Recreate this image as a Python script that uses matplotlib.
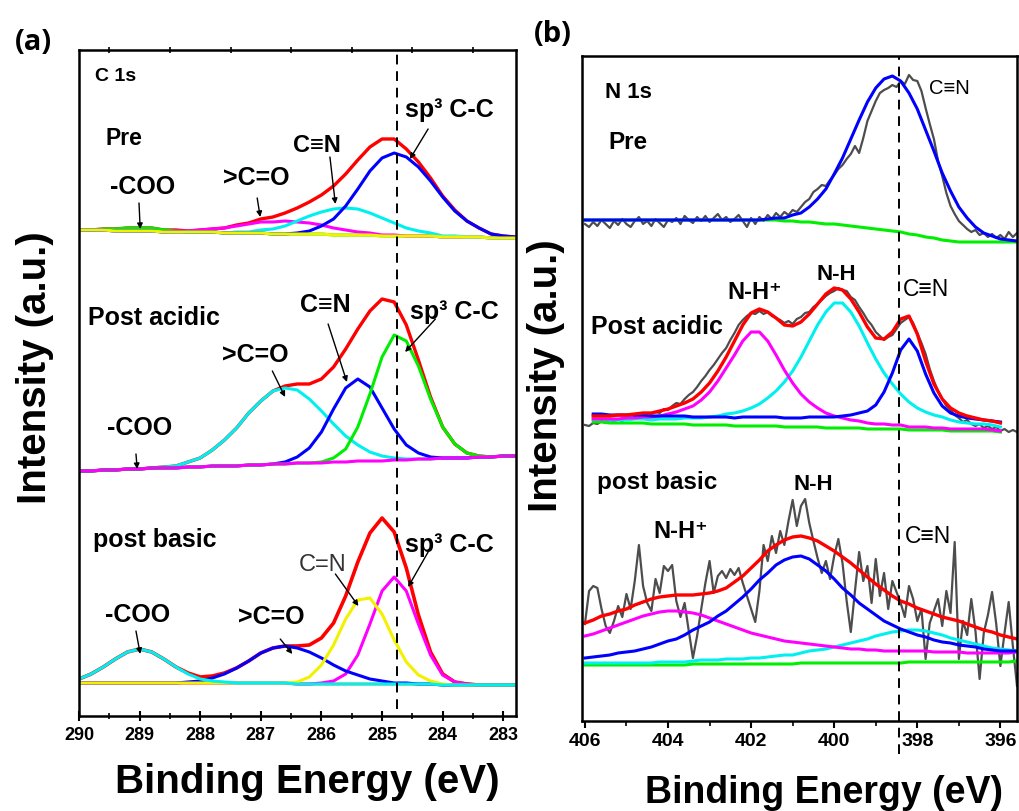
import numpy as np
import matplotlib
matplotlib.use("Agg")
import matplotlib.pyplot as plt
from matplotlib.ticker import MultipleLocator

plt.rcParams['font.family'] = ['Liberation Sans', 'DejaVu Sans']
plt.rcParams['font.weight'] = 'bold'

# ------------------------------------------------------------------
# Panel (a): C 1s  (intensities in arbitrary units, stacked spectra)
# ------------------------------------------------------------------
energy_c1s = [290.0, 289.8, 289.6, 289.4, 289.2, 289.0, 288.8, 288.6, 288.4, 288.2,
              288.0, 287.8, 287.6, 287.4, 287.2, 287.0, 286.8, 286.6, 286.4, 286.2,
              286.0, 285.8, 285.6, 285.4, 285.2, 285.0, 284.8, 284.6, 284.4, 284.2,
              284.0, 283.8, 283.6, 283.4, 283.2, 283.0, 282.8]

# Pre
c_pre_bg = [486, 486, 486, 485, 485, 485, 485, 484, 484, 484,
            484, 484, 483, 483, 483, 483, 482, 482, 482, 482,
            482, 481, 481, 481, 481, 480, 480, 480, 480, 480,
            479, 479, 479, 479, 478, 478, 478]
c_pre_coo = [0, 0, 1, 2, 3, 3, 3, 2, 1, 0,
             0, 0, 0, 0, 0, 0, 0, 0, 0, 0,
             0, 0, 0, 0, 0, 0, 0, 0, 0, 0,
             0, 0, 0, 0, 0, 0, 0]
c_pre_co = [0, 0, 0, 0, 0, 0, 0, 0, 1, 1,
            2, 3, 5, 7, 9, 11, 12, 13, 12, 11,
            9, 7, 5, 3, 2, 1, 1, 0, 0, 0,
            0, 0, 0, 0, 0, 0, 0]
c_pre_cn = [0, 0, 0, 0, 0, 0, 0, 0, 0, 0,
            0, 0, 0, 1, 1, 3, 5, 8, 13, 18,
            22, 26, 27, 26, 22, 18, 13, 8, 5, 3,
            1, 1, 0, 0, 0, 0, 0]
c_pre_cc = [0, 0, 0, 0, 0, 0, 0, 0, 0, 0,
            0, 0, 0, 0, 0, 0, 0, 0, 1, 3,
            8, 16, 29, 46, 64, 78, 83, 79, 69, 55,
            40, 26, 16, 9, 4, 2, 1]

# Post acidic
c_acid_bg = [245, 245, 246, 246, 247, 247, 248, 248, 248, 249,
             249, 250, 250, 250, 251, 251, 252, 252, 253, 253,
             253, 254, 254, 255, 255, 255, 256, 256, 257, 257,
             258, 258, 258, 259, 259, 260, 260]
c_acid_co = [0, 0, 0, 0, 0, 0, 0, 1, 2, 5,
             9, 16, 26, 38, 52, 64, 73, 76, 73, 64,
             52, 38, 26, 16, 9, 5, 2, 1, 0, 0,
             0, 0, 0, 0, 0, 0, 0]
c_acid_cn = [0, 0, 0, 0, 0, 0, 0, 0, 0, 0,
             0, 0, 0, 0, 0, 0, 0, 2, 6, 15,
             31, 53, 74, 82, 74, 53, 31, 15, 6, 2,
             0, 0, 0, 0, 0, 0, 0]
c_acid_cc = [0, 0, 0, 0, 0, 0, 0, 0, 0, 0,
             0, 0, 0, 0, 0, 0, 0, 0, 0, 0,
             1, 4, 13, 34, 67, 104, 125, 119, 93, 60,
             31, 14, 5, 1, 0, 0, 0]

# post basic
c_basic_bg = [33, 33, 33, 33, 33, 33, 33, 33, 33, 33,
              33, 33, 33, 33, 33, 33, 33, 33, 32, 32,
              32, 32, 32, 32, 32, 32, 32, 32, 32, 32,
              31, 31, 31, 31, 31, 31, 31]
c_basic_coo = [4, 9, 16, 24, 31, 34, 31, 24, 16, 9,
               4, 2, 1, 0, 0, 0, 0, 0, 0, 0,
               0, 0, 0, 0, 0, 0, 0, 0, 0, 0,
               0, 0, 0, 0, 0, 0, 0]
c_basic_co = [0, 0, 0, 0, 0, 0, 0, 0, 0, 1,
              2, 5, 9, 15, 22, 30, 35, 37, 36, 32,
              26, 19, 13, 9, 5, 3, 1, 1, 0, 0,
              0, 0, 0, 0, 0, 0, 0]
c_basic_cn = [0, 0, 0, 0, 0, 0, 0, 0, 0, 0,
              0, 0, 0, 0, 0, 0, 0, 0, 2, 7,
              19, 39, 65, 84, 86, 70, 44, 22, 9, 3,
              1, 0, 0, 0, 0, 0, 0]
c_basic_cc = [0, 0, 0, 0, 0, 0, 0, 0, 0, 0,
              0, 0, 0, 0, 0, 0, 0, 0, 0, 0,
              1, 3, 10, 29, 60, 93, 107, 93, 60, 29,
              10, 3, 1, 0, 0, 0, 0]

c1s_ticks = [290, 289, 288, 287, 286, 285, 284, 283]
c1s_ref = 284.75

# ------------------------------------------------------------------
# Panel (b): N 1s
# ------------------------------------------------------------------
energy_n1s = [406.0, 405.8, 405.6, 405.4, 405.2, 405.0, 404.8, 404.6, 404.4, 404.2,
              404.0, 403.8, 403.6, 403.4, 403.2, 403.0, 402.8, 402.6, 402.4, 402.2,
              402.0, 401.8, 401.6, 401.4, 401.2, 401.0, 400.8, 400.6, 400.4, 400.2,
              400.0, 399.8, 399.6, 399.4, 399.2, 399.0, 398.8, 398.6, 398.4, 398.2,
              398.0, 397.8, 397.6, 397.4, 397.2, 397.0, 396.8, 396.6, 396.4, 396.2,
              396.0, 395.8, 395.6]

energy_n1s_raw = [406.0, 405.9, 405.8, 405.7, 405.6, 405.5, 405.4, 405.3, 405.2, 405.1,
                  405.0, 404.9, 404.8, 404.7, 404.6, 404.5, 404.4, 404.3, 404.2, 404.1,
                  404.0, 403.9, 403.8, 403.7, 403.6, 403.5, 403.4, 403.3, 403.2, 403.1,
                  403.0, 402.9, 402.8, 402.7, 402.6, 402.5, 402.4, 402.3, 402.2, 402.1,
                  402.0, 401.9, 401.8, 401.7, 401.6, 401.5, 401.4, 401.3, 401.2, 401.1,
                  401.0, 400.9, 400.8, 400.7, 400.6, 400.5, 400.4, 400.3, 400.2, 400.1,
                  400.0, 399.9, 399.8, 399.7, 399.6, 399.5, 399.4, 399.3, 399.2, 399.1,
                  399.0, 398.9, 398.8, 398.7, 398.6, 398.5, 398.4, 398.3, 398.2, 398.1,
                  398.0, 397.9, 397.8, 397.7, 397.6, 397.5, 397.4, 397.3, 397.2, 397.1,
                  397.0, 396.9, 396.8, 396.7, 396.6, 396.5, 396.4, 396.3, 396.2, 396.1,
                  396.0, 395.9, 395.8, 395.7, 395.6]

# Pre
n_pre_raw = [497, 494, 499, 495, 501, 497, 493, 500, 496, 502,
             497, 494, 500, 504, 497, 500, 495, 502, 498, 494,
             501, 499, 503, 497, 505, 501, 498, 504, 500, 505,
             499, 503, 507, 501, 504, 499, 502, 506, 500, 494,
             503, 497, 504, 500, 506, 502, 508, 504, 509, 506,
             511, 509, 514, 519, 522, 529, 532, 536, 535, 541,
             546, 552, 556, 562, 567, 575, 568, 583, 600, 610,
             620, 628, 631, 633, 636, 634, 640, 637, 646, 641,
             640, 630, 613, 597, 582, 560, 545, 528, 515, 507,
             500, 496, 492, 489, 491, 486, 488, 484, 487, 483,
             486, 482, 489, 484, 488]
n_pre_bg = [501, 501, 501, 501, 501, 501, 501, 501, 501, 501,
            501, 501, 501, 501, 501, 501, 501, 501, 501, 501,
            501, 501, 501, 501, 500, 500, 499, 499, 498, 497,
            497, 496, 495, 494, 493, 492, 491, 490, 489, 487,
            486, 484, 483, 481, 480, 479, 479, 479, 479, 479,
            479, 479, 479]
n_pre_cn = [0, 0, 0, 0, 0, 0, 0, 0, 0, 0,
            0, 0, 0, 0, 0, 0, 0, 0, 0, 0,
            0, 0, 1, 2, 3, 6, 9, 15, 24, 35,
            50, 67, 87, 107, 126, 141, 151, 155, 151, 141,
            126, 107, 87, 67, 50, 35, 24, 15, 9, 6,
            3, 2, 1]

n_acid_raw = [296, 295, 298, 297, 300, 298, 301, 299, 302, 300,
              303, 301, 304, 303, 306, 304, 307, 309, 308, 312,
              311, 315, 318, 317, 322, 326, 329, 334, 340, 345,
              351, 356, 362, 368, 373, 381, 388, 396, 401, 405,
              408, 407, 410, 407, 409, 405, 403, 401, 398, 400,
              397, 402, 404, 408, 409, 414, 417, 421, 425, 428,
              430, 433, 431, 430, 424, 421, 414, 408, 401, 396,
              389, 385, 381, 384, 386, 392, 398, 401, 404, 398,
              388, 378, 367, 352, 340, 330, 322, 315, 311, 306,
              303, 299, 301, 297, 295, 297, 293, 295, 292, 294,
              290, 292, 289, 291, 289]
n_acid_bg = [299, 299, 299, 298, 298, 298, 298, 298, 297, 297,
             297, 297, 297, 296, 296, 296, 296, 296, 295, 295,
             295, 295, 295, 295, 294, 294, 294, 294, 294, 293,
             293, 293, 293, 293, 292, 292, 292, 292, 292, 291,
             291, 291, 291, 291, 290, 290, 290, 290, 290, 290,
             289, 289, 289]
n_acid_nhp = [302, 302, 302, 302, 302, 303, 303, 304, 304, 305,
              307, 309, 312, 315, 321, 329, 340, 353, 366, 380,
              389, 389, 380, 366, 351, 338, 327, 319, 313, 308,
              305, 303, 301, 300, 298, 297, 297, 296, 296, 294,
              294, 294, 293, 293, 292, 292, 292, 292, 292, 291,
              290, 290, 290]
n_acid_nh = [301, 302, 302, 301, 301, 301, 302, 302, 301, 302,
             302, 302, 303, 303, 303, 304, 305, 307, 308, 310,
             313, 317, 323, 330, 339, 350, 364, 380, 396, 409,
             418, 418, 409, 395, 378, 362, 348, 337, 327, 319,
             313, 309, 306, 304, 301, 299, 298, 297, 297, 296,
             294, 294, 294]
n_acid_cn = [307, 307, 307, 306, 306, 306, 306, 306, 305, 305,
             305, 305, 305, 304, 304, 304, 304, 304, 303, 304,
             304, 304, 304, 304, 303, 303, 303, 304, 304, 304,
             304, 305, 306, 308, 310, 316, 329, 348, 371, 382,
             370, 347, 328, 315, 308, 305, 303, 302, 301, 300,
             299, 299, 298]
n_acid_fit = [305, 305, 305, 305, 306, 306, 307, 308, 308, 310,
              312, 315, 318, 322, 329, 338, 350, 364, 380, 396,
              408, 412, 409, 403, 396, 395, 399, 407, 417, 427,
              433, 431, 422, 409, 394, 383, 382, 389, 402, 405,
              387, 360, 337, 322, 313, 308, 305, 303, 301, 300,
              298, 297, 296]

n_basic_raw = [97, 130, 135, 133, 112, 95, 88, 100, 115, 104,
               127, 112, 140, 176, 135, 118, 110, 142, 128, 155,
               150, 156, 120, 104, 118, 90, 63, 85, 112, 138,
               160, 128, 145, 150, 143, 152, 146, 153, 138, 125,
               112, 99, 130, 176, 160, 185, 168, 190, 176, 200,
               221, 195, 215, 222, 198, 180, 163, 148, 160, 142,
               165, 182, 158, 120, 89, 130, 169, 140, 155, 118,
               162, 125, 148, 112, 140, 129, 118, 104, 135, 122,
               100, 112, 62, 98, 110, 122, 95, 130, 108, 179,
               62, 100, 86, 122, 90, 42, 88, 106, 129, 97,
               55, 88, 119, 75, 35]
n_basic_bg = [56, 56, 56, 56, 56, 56, 56, 56, 56, 56,
              56, 56, 56, 57, 57, 57, 57, 57, 57, 57,
              57, 57, 57, 57, 57, 57, 58, 58, 58, 58,
              58, 58, 58, 58, 58, 58, 58, 58, 58, 59,
              59, 59, 59, 59, 59, 59, 59, 59, 59, 59,
              59, 59, 60]
n_basic_cn = [58, 58, 58, 58, 58, 58, 58, 58, 58, 59,
              59, 59, 59, 60, 61, 61, 61, 62, 62, 62,
              63, 63, 64, 65, 66, 66, 68, 70, 71, 72,
              74, 76, 78, 80, 82, 85, 87, 89, 90, 91,
              91, 90, 88, 86, 83, 81, 79, 77, 75, 73,
              72, 71, 70]
n_basic_nhp = [85, 87, 90, 93, 96, 99, 102, 105, 107, 109,
               110, 110, 109, 108, 106, 103, 100, 97, 94, 91,
               88, 86, 84, 82, 80, 79, 78, 77, 76, 75,
               74, 73, 72, 72, 71, 71, 70, 70, 70, 70,
               70, 70, 69, 69, 69, 69, 68, 68, 68, 68,
               68, 68, 69]
n_basic_nh = [63, 64, 65, 66, 68, 69, 70, 72, 74, 77,
              80, 82, 86, 91, 95, 99, 105, 110, 117, 124,
              132, 141, 148, 156, 161, 164, 165, 162, 156, 150,
              142, 133, 126, 118, 112, 106, 100, 96, 92, 89,
              86, 84, 81, 79, 78, 76, 75, 74, 72, 71,
              70, 70, 70]
n_basic_fit = [98, 101, 105, 107, 110, 112, 116, 119, 122, 124,
               125, 126, 126, 126, 127, 128, 130, 133, 139, 145,
               153, 161, 170, 176, 181, 184, 185, 183, 180, 175,
               170, 164, 158, 151, 144, 137, 131, 125, 120, 117,
               113, 110, 107, 104, 102, 100, 97, 94, 91, 89,
               86, 84, 82]

n1s_ticks = [406, 404, 402, 400, 398, 396]
n1s_ref = 398.43

# ------------------------------------------------------------------
RED, BLUE, CYAN = '#FF0000', '#0000FF', '#00F0F0'
MAGENTA, GREEN, YELLOW = '#FF00FF', '#00EE00', '#F2F200'
ORANGE, GRAY = '#FF9933', '#4d4d4d'
LW = 2.2

fig = plt.figure(figsize=(10.2, 8.12), dpi=100)
axA = fig.add_axes([0.07745, 0.11700, 0.42843, 0.82020])
axB = fig.add_axes([0.57059, 0.11084, 0.42647, 0.81897])

E = np.array(energy_c1s)

# ---- Pre ----
bg = np.array(c_pre_bg)
fit = bg + np.array(c_pre_coo) + np.array(c_pre_co) + np.array(c_pre_cn) + np.array(c_pre_cc)
axA.plot(E, fit, color='black', lw=1.0, ls=(0, (1, 3)))
axA.plot(E, fit, color=RED, lw=2.4)
axA.plot(E, bg + np.array(c_pre_coo), color=GREEN, lw=LW)
axA.plot(E, bg + np.array(c_pre_co), color=MAGENTA, lw=LW)
axA.plot(E, bg + np.array(c_pre_cn), color=CYAN, lw=LW)
axA.plot(E, bg + np.array(c_pre_cc), color=BLUE, lw=LW)
axA.plot(E, bg, color=YELLOW, lw=LW)

# ---- Post acidic ----
bg = np.array(c_acid_bg)
fit = bg + np.array(c_acid_co) + np.array(c_acid_cn) + np.array(c_acid_cc)
axA.plot(E, fit, color=RED, lw=2.4)
axA.plot(E, bg + np.array(c_acid_co), color=CYAN, lw=LW)
axA.plot(E, bg + np.array(c_acid_cn), color=BLUE, lw=LW)
axA.plot(E, bg + np.array(c_acid_cc), color=GREEN, lw=LW)
axA.plot(E, bg, color=MAGENTA, lw=LW)

# ---- post basic ----
bg = np.array(c_basic_bg)
fit = bg + np.array(c_basic_coo) + np.array(c_basic_co) + np.array(c_basic_cn) + np.array(c_basic_cc)
axA.plot(E, bg, color=ORANGE, lw=LW)
axA.plot(E, fit, color=RED, lw=2.6)
axA.plot(E, bg + np.array(c_basic_cc), color=MAGENTA, lw=LW)
axA.plot(E, bg + np.array(c_basic_co), color=BLUE, lw=LW)
axA.plot(E, bg + np.array(c_basic_cn), color=YELLOW, lw=LW)
axA.plot(E, bg + np.array(c_basic_coo), color=CYAN, lw=LW)

axA.axvline(c1s_ref, ymin=7 / 666, ymax=1, color='black', lw=1.4, ls=(0, (5, 3.5)))

axA.set_xlim(290, 282.79)
axA.set_ylim(0, 666)
axA.set_xticks(c1s_ticks)
axA.set_xticklabels([str(t) for t in c1s_ticks])
axA.xaxis.set_minor_locator(MultipleLocator(0.5))
axA.set_yticks([])
axA.tick_params(axis='x', which='major', direction='inout', length=7, width=1.5,
                labelsize=13, pad=4, top=False)
axA.tick_params(axis='x', which='minor', direction='inout', length=4, width=1.2,
                top=True, bottom=True)

arrow = dict(arrowstyle='-|>', color='black', lw=1.0, mutation_scale=8,
             shrinkA=0, shrinkB=0)


def label(ax, x, y, s, size, weight='bold', color='black'):
    ax.text(x, y, s, fontsize=size, fontweight=weight, color=color,
            ha='left', va='center')


def pointer(ax, tail, tip):
    ax.annotate('', xy=tip, xytext=tail, arrowprops=arrow)


label(axA, 289.74, 640, 'C 1s', 14)
label(axA, 289.57, 578, 'Pre', 16.5)
label(axA, 289.49, 530, '-COO', 18)
pointer(axA, (289.01, 513), (288.99, 487))
label(axA, 287.62, 539, '>C=O', 18)
pointer(axA, (287.06, 518), (287.01, 499))
label(axA, 286.47, 571, 'C\u2261N', 17)
pointer(axA, (285.86, 559), (285.77, 512))
label(axA, 284.62, 607, 'sp\u00b3 C-C', 18)
pointer(axA, (284.24, 587), (284.54, 557))

label(axA, 289.85, 399, 'Post acidic', 18)
label(axA, 287.64, 362, '>C=O', 18)
pointer(axA, (286.81, 345), (286.60, 319))
label(axA, 286.35, 412, 'C\u2261N', 18)
pointer(axA, (285.89, 392), (285.58, 334))
label(axA, 284.54, 405, 'sp\u00b3 C-C', 18)
pointer(axA, (284.12, 397), (284.62, 364))
label(axA, 289.54, 289, '-COO', 18)
pointer(axA, (289.06, 262), (289.04, 247))

label(axA, 289.77, 177, 'post basic', 18)
label(axA, 289.57, 102, '-COO', 18)
pointer(axA, (289.06, 85), (288.99, 62))
label(axA, 287.37, 100, '>C=O', 18)
pointer(axA, (286.68, 77), (286.48, 62))
label(axA, 286.38, 152, 'C=N', 17, weight='normal', color='#333333')
pointer(axA, (285.77, 142), (285.39, 110))
label(axA, 284.62, 172, 'sp\u00b3 C-C', 18)
pointer(axA, (284.24, 164), (284.57, 129))

# ---------------- panel (b) ----------------
EN = np.array(energy_n1s)
ER = np.array(energy_n1s_raw)
fit_span = slice(1, 51)   # the acidic fit curves stop short of the frame

axB.plot(ER, n_pre_raw, color=GRAY, lw=1.6)
axB.plot(EN, n_pre_bg, color=GREEN, lw=LW)
axB.plot(EN, np.array(n_pre_bg) + np.array(n_pre_cn), color=BLUE, lw=LW)

axB.plot(ER, n_acid_raw, color=GRAY, lw=1.6)
axB.plot(EN[fit_span], np.array(n_acid_bg)[fit_span], color=GREEN, lw=LW)
axB.plot(EN[fit_span], np.array(n_acid_nh)[fit_span], color=CYAN, lw=LW)
axB.plot(EN[fit_span], np.array(n_acid_nhp)[fit_span], color=MAGENTA, lw=LW)
axB.plot(EN[fit_span], np.array(n_acid_cn)[fit_span], color=BLUE, lw=LW)
axB.plot(EN[fit_span], np.array(n_acid_fit)[fit_span], color=RED, lw=2.4)

axB.plot(ER, n_basic_raw, color=GRAY, lw=1.6)
axB.plot(EN, n_basic_bg, color=GREEN, lw=LW)
axB.plot(EN, n_basic_cn, color=CYAN, lw=LW)
axB.plot(EN, n_basic_nhp, color=MAGENTA, lw=LW)
axB.plot(EN, n_basic_nh, color=BLUE, lw=LW)
axB.plot(EN, n_basic_fit, color=RED, lw=2.4)

axB.axvline(n1s_ref, ymin=-33 / 665, ymax=1, color='black', lw=1.4,
            ls=(0, (5, 3.5)), clip_on=False)

axB.set_xlim(406.07, 395.6)
axB.set_ylim(0, 665)
axB.set_xticks(n1s_ticks)
axB.set_xticklabels([str(t) for t in n1s_ticks])
axB.xaxis.set_minor_locator(MultipleLocator(1))
axB.set_yticks([])
axB.tick_params(axis='x', which='major', direction='out', length=5, width=1.5,
                labelsize=14, pad=3)
axB.tick_params(axis='x', which='minor', direction='out', length=3.5, width=1.2)

label(axB, 405.52, 629, 'N 1s', 16)
label(axB, 405.44, 579, 'Pre', 17.5)
label(axB, 397.71, 633, 'C\u2261N', 14.5, weight='normal')
label(axB, 405.85, 395, 'Post acidic', 18)
label(axB, 402.58, 429, 'N-H\u207a', 17)
label(axB, 400.43, 447, 'N-H', 16)
label(axB, 398.34, 432, 'C\u2261N', 16.5, weight='normal')
label(axB, 405.71, 239, 'post basic', 17.5)
label(axB, 400.99, 237, 'N-H', 16)
label(axB, 404.36, 190, 'N-H\u207a', 17)
label(axB, 398.29, 185, 'C\u2261N', 16.5, weight='normal')

for ax in (axA, axB):
    for sp in ax.spines.values():
        sp.set_linewidth(1.8)

W, H = 1020.0, 812.0
fig.text(35 / W, 1 - 368 / H, 'Intensity (a.u.)', rotation=90, ha='center', va='center',
         fontsize=29, fontweight='bold')
fig.text(546 / W, 1 - 376 / H, 'Intensity (a.u.)', rotation=90, ha='center', va='center',
         fontsize=29, fontweight='bold')
fig.text(307 / W, 1 - 782 / H, 'Binding Energy (eV)', ha='center', va='center',
         fontsize=29, fontweight='bold')
fig.text(824 / W, 1 - 793 / H, 'Binding Energy (eV)', ha='center', va='center',
         fontsize=27, fontweight='bold')
fig.text(33 / W, 1 - 42 / H, '(a)', ha='center', va='center', fontsize=21,
         fontweight='bold', family=['Open Sans', 'DejaVu Sans'])
fig.text(553 / W, 1 - 35 / H, '(b)', ha='center', va='center', fontsize=21,
         fontweight='bold', family=['Open Sans', 'DejaVu Sans'])

fig.savefig('out.png', dpi=100, facecolor='white')
